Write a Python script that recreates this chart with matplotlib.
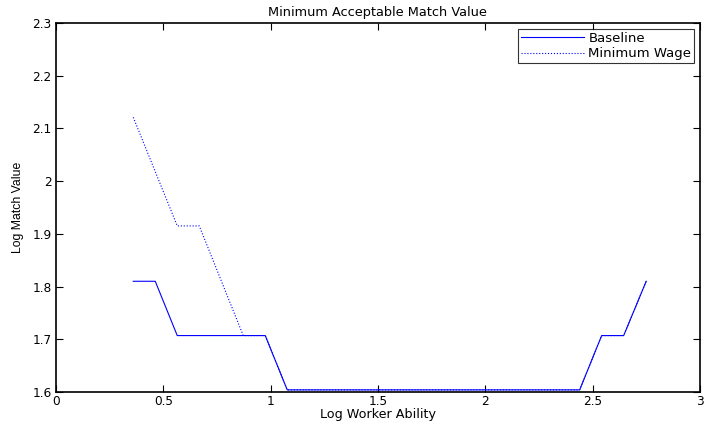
import matplotlib
matplotlib.use('Agg')
import matplotlib.pyplot as plt
from matplotlib.ticker import FuncFormatter

plt.rcParams['font.family'] = ['DejaVu Sans']

# Baseline
base_x = [0.36, 0.4625, 0.565, 0.975, 1.0775, 2.44, 2.5425, 2.645, 2.75]
base_y = [1.81, 1.81, 1.707, 1.707, 1.604, 1.604, 1.707, 1.707, 1.81]

# Minimum wage
mw_x = [0.36, 0.565, 0.6675, 0.8725, 0.975, 1.0775, 2.44, 2.5425, 2.645, 2.75]
mw_y = [2.121, 1.915, 1.915, 1.707, 1.707, 1.604, 1.604, 1.707, 1.707, 1.81]

xticks = [0, 0.5, 1, 1.5, 2, 2.5, 3]
yticks = [1.6, 1.7, 1.8, 1.9, 2.0, 2.1, 2.2, 2.3]

fig = plt.figure(figsize=(7.06, 4.23), dpi=100)
ax = fig.add_axes([0.0793, 0.0733, 0.912, 0.8725])

ax.plot(base_x, base_y, '-', color='b', linewidth=0.8, label='Baseline')
ax.plot(mw_x, mw_y, ':', color='b', linewidth=0.8, label='Minimum Wage')

ax.set_xlim(0, 3)
ax.set_ylim(1.6, 2.3)
ax.set_xticks(xticks)
ax.set_yticks(yticks)
fmt = FuncFormatter(lambda v, p: '%g' % v)
ax.xaxis.set_major_formatter(fmt)
ax.yaxis.set_major_formatter(fmt)
ax.tick_params(direction='in', top=True, right=True, length=5, width=0.8,
               labelsize=8.7, pad=2)
ax.tick_params(axis='y', pad=3)
for s in ax.spines.values():
    s.set_linewidth(1.2)

ax.set_title('Minimum Acceptable Match Value', fontsize=9.3, pad=5)
ax.set_xlabel('Log Worker Ability', fontsize=9.2, labelpad=0)
ax.set_ylabel('Log Match Value', fontsize=8.8, labelpad=6,
              family=['Liberation Sans', 'DejaVu Sans'])

leg = ax.legend(loc='upper right', fontsize=9.5, frameon=True, fancybox=False,
                handlelength=4.8, borderpad=0.2, labelspacing=0.2,
                borderaxespad=0.45, handletextpad=0.3)
leg.get_frame().set_edgecolor('black')
leg.get_frame().set_linewidth(0.8)

plt.savefig('out.png', dpi=100)
